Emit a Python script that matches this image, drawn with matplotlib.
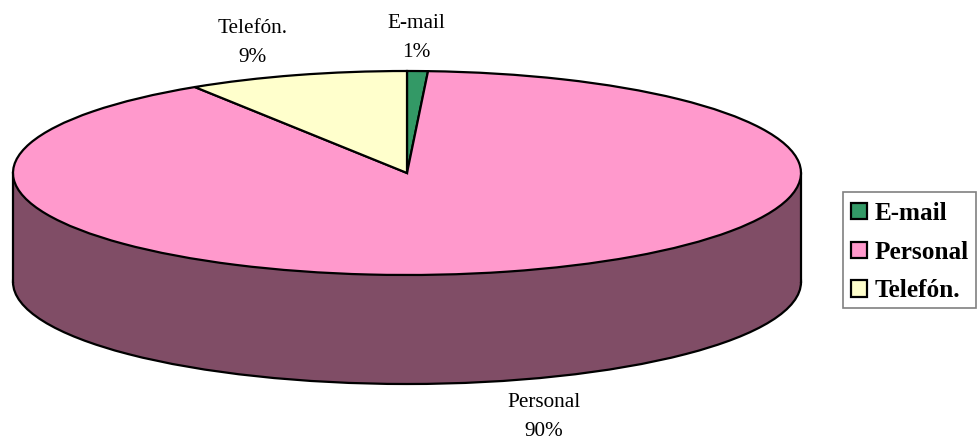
import matplotlib
matplotlib.use('Agg')
import matplotlib.pyplot as plt
from matplotlib.patches import Ellipse, Rectangle

categories = ['E-mail', 'Personal', 'Telefón.']
shares = [0.85, 90.1, 9.05]
colors = ['#339966', '#FF99CC', '#FFFFCC']
side_color = '#804D66'

plt.rcParams['font.family'] = ['Liberation Serif', 'DejaVu Serif']

W, H = 978, 440
cx, cy = 407, 173    # centre of the top face, pixels
rx, ry = 394, 102    # radii of the top face, pixels
depth = 109 / ry     # height of the side wall, in units of ry

fig = plt.figure(figsize=(W / 100, H / 100), dpi=100)
ax = fig.add_axes([0, 0, 1, 1])

# the pie is drawn with radius 1 and the axes limits squash it into an ellipse
wedges, _ = ax.pie(shares, colors=colors, startangle=90, counterclock=False,
                   wedgeprops=dict(edgecolor='black', linewidth=1.6, zorder=5))

# side wall
ax.add_patch(Ellipse((0, -depth), 2, 2, facecolor=side_color, edgecolor='black', linewidth=1.6, zorder=1))
ax.add_patch(Rectangle((-1, -depth), 2, depth, facecolor=side_color, edgecolor='none', zorder=2))
ax.plot([-1, -1], [0, -depth], color='black', linewidth=1.6, zorder=3)
ax.plot([1, 1], [0, -depth], color='black', linewidth=1.6, zorder=3)

ax.set_aspect('auto')
ax.set_xlim(-cx / rx, (W - cx) / rx)
ax.set_ylim((cy - H) / ry, cy / ry)
ax.axis('off')


def px(x, y):
    return (x - cx) / rx, (cy - y) / ry


label_pos = [(416, 38), (544, 417), (253, 43)]
for name, share, pos in zip(categories, shares, label_pos):
    x, y = px(*pos)
    ax.text(x, y, f'{name}\n{round(share)}%', ha='center', va='center', fontsize=15.3,
            linespacing=1.65, color='black')

# legend frame on its own so the rows can sit where they do in the original
fig.add_artist(Rectangle((843.5 / W, 1 - 308 / H), 133 / W, 116 / H, transform=fig.transFigure,
                         facecolor='white', edgecolor='#808080', linewidth=1.2))
leg = fig.legend(wedges, categories, loc='upper left', bbox_to_anchor=(851 / W, 1 - 202 / H),
                 borderaxespad=0, frameon=False, prop=dict(weight='bold', size=18.2),
                 handlelength=0.62, handleheight=0.62, handletextpad=0.3,
                 labelspacing=0.62, borderpad=0)

fig.savefig('out.png', dpi=100)
